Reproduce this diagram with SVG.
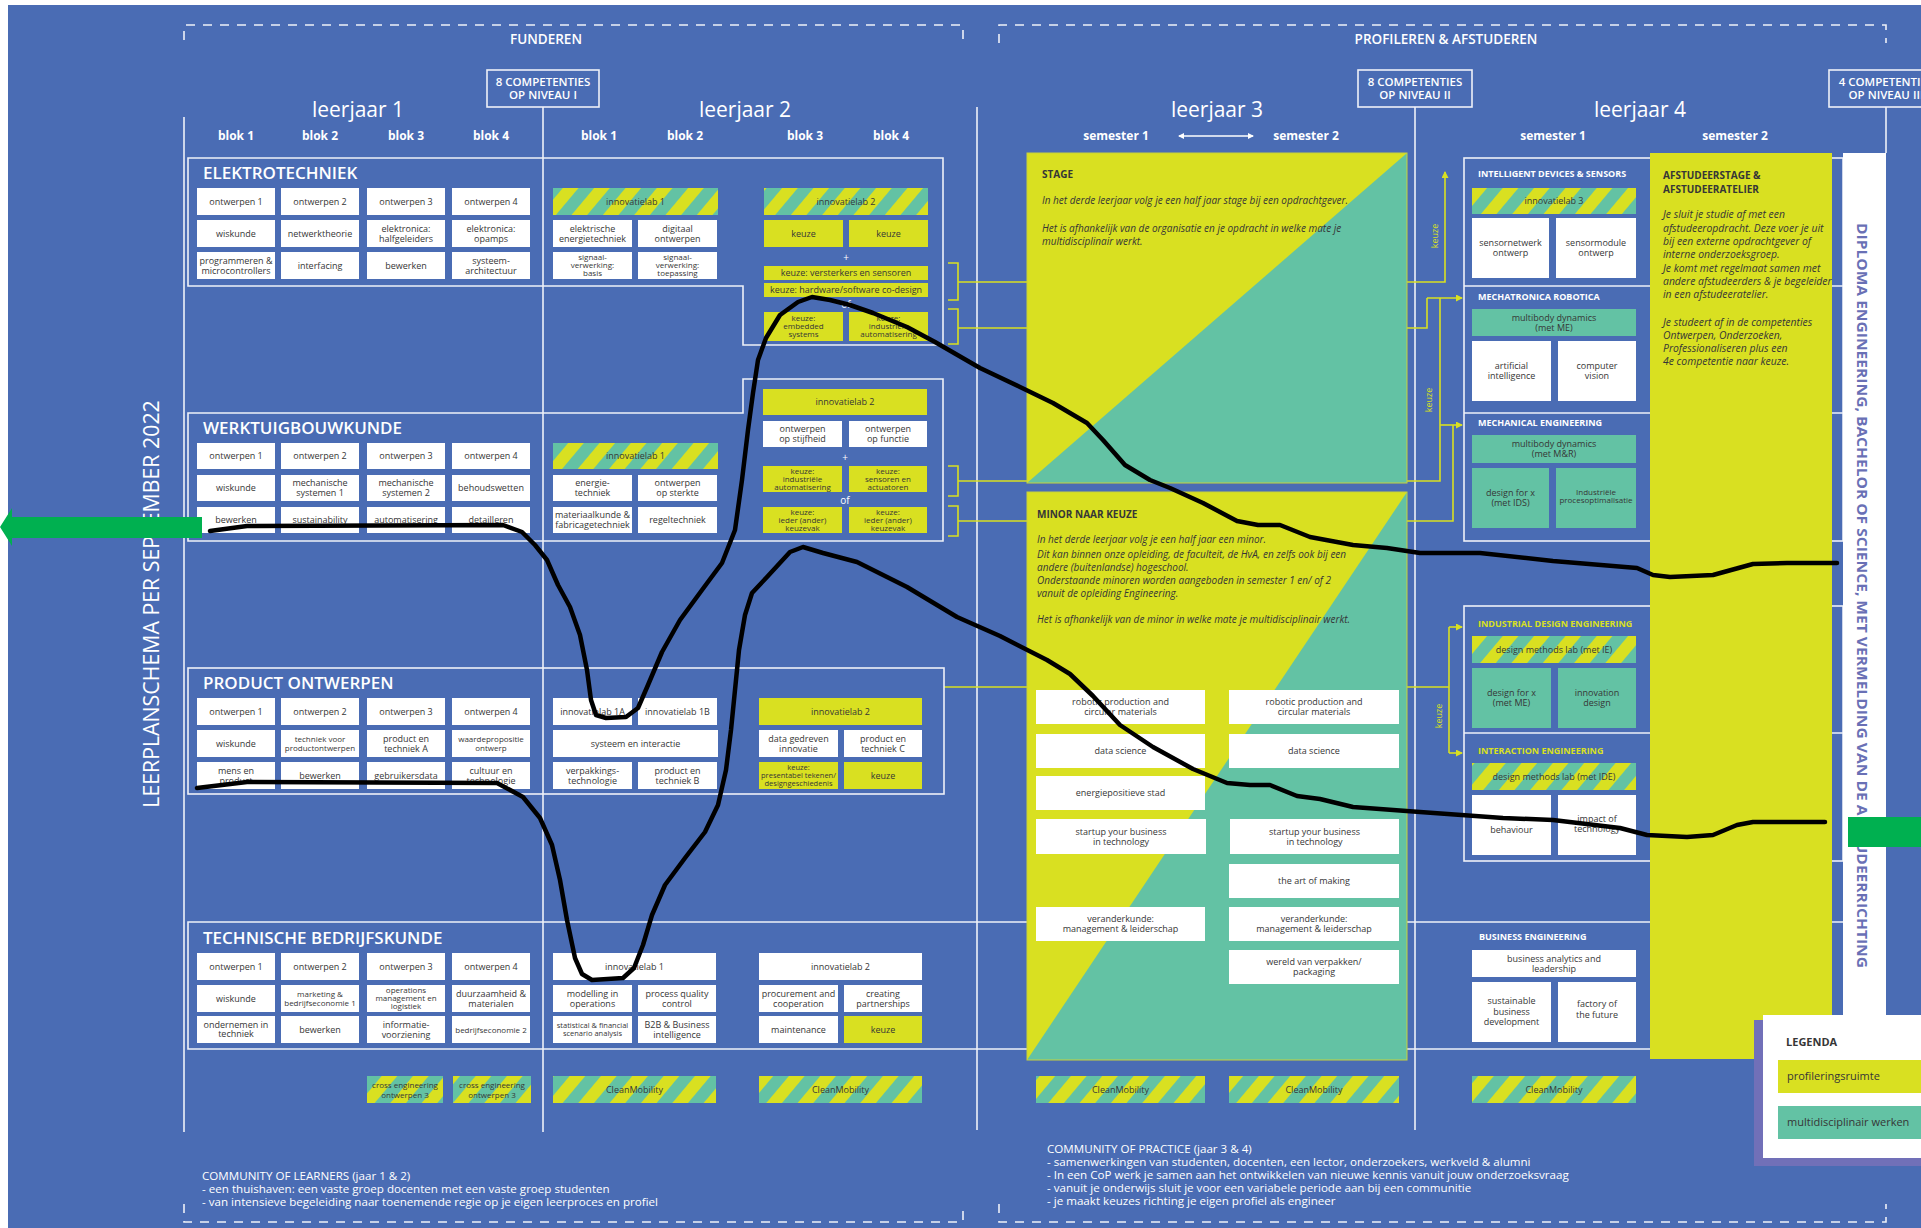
<svg xmlns="http://www.w3.org/2000/svg" width="1921" height="1228" viewBox="0 0 1921 1228">
<defs>
<pattern id="str" width="24" height="24" patternUnits="userSpaceOnUse" patternTransform="rotate(40)">
<rect width="24" height="24" fill="#63c2a4"/><rect width="12" height="24" fill="#d9e021"/>
</pattern>
<marker id="ya" markerWidth="7" markerHeight="7" refX="6" refY="3.5" orient="auto" markerUnits="userSpaceOnUse"><path d="M0,0 L7,3.5 L0,7 Z" fill="#d9e021"/></marker>
<marker id="wa" markerWidth="6" markerHeight="6" refX="5" refY="3" orient="auto-start-reverse" markerUnits="userSpaceOnUse"><path d="M0,0 L6,3 L0,6 Z" fill="#fff"/></marker>
</defs>
<style>
.bg{fill:#4a6cb4}
.w{fill:#fff}
.y{fill:#d9e021}
.t{fill:#63c2a4}
.s{fill:url(#str)}
.ol{fill:none;stroke:#eef1f8;stroke-width:1.6}
.dash{fill:none;stroke:#eef1f8;stroke-width:1.6;stroke-dasharray:9 8}
.yl{fill:none;stroke:#d9e021;stroke-width:1.6}
.ink{fill:none;stroke:#000;stroke-width:4.5;stroke-linecap:round;stroke-linejoin:round}
text{font-family:"Open Sans","Liberation Sans",sans-serif}
.m{font-size:9px;fill:#363636;text-anchor:middle}
.m8{font-size:8px}
.m75{font-size:7.5px}
.wt{fill:#fff}
.c{text-anchor:middle}
.blk{font-size:12px;font-weight:700;fill:#fff;text-anchor:middle}
.lj{font-size:21px;fill:#fff;text-anchor:middle}
.sec{font-size:17px;font-weight:600;fill:#fff}
.cmp{font-size:11.5px;font-weight:600;fill:#fff;text-anchor:middle}
.top{font-size:13.5px;font-weight:600;fill:#fff;text-anchor:middle}
.y4t{font-size:9px;font-weight:700;fill:#fff}
.y4y{font-size:9px;font-weight:700;fill:#d9e021}
.it{font-size:10px;font-style:italic;fill:#363636}
.ita{font-size:10.4px;font-style:italic;fill:#363636}
.bt{font-size:10px;font-weight:700;fill:#363636}
.cm{font-size:11.6px;fill:#fff}
.kz{font-size:9px;fill:#d9e021;text-anchor:middle}
.sym{font-size:10px;fill:#fff;text-anchor:middle}
</style>

<rect class="bg" x="0" y="0" width="1921" height="1228"/>
<rect class="w" x="0" y="0" width="1921" height="5"/>
<rect class="w" x="0" y="0" width="8" height="1228"/>

<g id="frames">
<path class="dash" d="M184,40 V25 H963 V43"/>
<path class="dash" d="M184,1204 V1222 H963 V1204"/>
<path class="dash" d="M999,43 V25 H1886 V43"/>
<path class="dash" d="M999,1204 V1222 H1886 V1204"/>
<text class="top" x="546" y="44">FUNDEREN</text>
<text class="top" x="1446" y="44">PROFILEREN &amp; AFSTUDEREN</text>
<line class="ol" x1="184" y1="117" x2="184" y2="1132"/>
<line class="ol" x1="543" y1="107" x2="543" y2="1132"/>
<line class="ol" x1="977" y1="107" x2="977" y2="1130"/>
<line class="ol" x1="1415" y1="107" x2="1415" y2="1130"/>
<line class="ol" x1="1886" y1="107" x2="1886" y2="153"/>
</g>

<g id="competenties-1"><rect class="ol" x="487" y="70" width="112" height="37"/><text class="cmp" x="543" y="86">8 COMPETENTIES</text><text class="cmp" x="543" y="99">OP NIVEAU I</text></g>
<g id="competenties-2"><rect class="ol" x="1358" y="70" width="114" height="37"/><text class="cmp" x="1415" y="86">8 COMPETENTIES</text><text class="cmp" x="1415" y="99">OP NIVEAU II</text></g>
<g id="competenties-3"><rect class="ol" x="1829" y="70" width="114" height="37"/><text class="cmp" x="1886" y="86">4 COMPETENTIES</text><text class="cmp" x="1886" y="99">OP NIVEAU III</text></g>

<g id="headers">
<text class="lj" x="358" y="117">leerjaar 1</text>
<text class="blk" x="236" y="140">blok 1</text><text class="blk" x="320" y="140">blok 2</text><text class="blk" x="406" y="140">blok 3</text><text class="blk" x="491" y="140">blok 4</text>
<text class="lj" x="745" y="117">leerjaar 2</text>
<text class="blk" x="599" y="140">blok 1</text><text class="blk" x="685" y="140">blok 2</text><text class="blk" x="805" y="140">blok 3</text><text class="blk" x="891" y="140">blok 4</text>
<text class="lj" x="1217" y="117">leerjaar 3</text>
<text class="blk" x="1116" y="140">semester 1</text><text class="blk" x="1306" y="140">semester 2</text>
<line x1="1179" y1="136" x2="1253" y2="136" stroke="#fff" stroke-width="1.3" marker-start="url(#wa)" marker-end="url(#wa)"/>
<text class="lj" x="1640" y="117">leerjaar 4</text>
<text class="blk" x="1553" y="140">semester 1</text><text class="blk" x="1735" y="140">semester 2</text>
</g>

<g id="side-title"><text transform="translate(159,604) rotate(-90)" class="wt c" font-size="21.3">LEERPLANSCHEMA PER SEPTEMBER 2022</text></g>

<g id="connectors">
<path class="yl" d="M948,263 H958 V300 H948 M958,282 H1027"/>
<path class="yl" d="M948,309 H958 V344 H948 M958,328 H1027"/>
<path class="yl" d="M948,466 H958 V496 H948 M958,481 H1027"/>
<path class="yl" d="M948,506 H958 V536 H948 M958,521 H1027"/>
<path class="yl" d="M944,687 H1027"/>
<path class="yl" d="M1407,282 H1445 V172" marker-end="url(#ya)"/>
<path class="yl" d="M1407,328 H1427 V298"/>
<path class="yl" d="M1427,298 H1462" marker-end="url(#ya)"/>
<path class="yl" d="M1407,481 H1440 V298"/>
<path class="yl" d="M1440,425 H1462" marker-end="url(#ya)"/>
<path class="yl" d="M1407,521 H1453 V425"/>
<path class="yl" d="M1407,687 H1449 M1449,627 V753"/>
<path class="yl" d="M1449,627 H1462" marker-end="url(#ya)"/>
<path class="yl" d="M1449,753 H1462" marker-end="url(#ya)"/>
<text transform="translate(1438,236) rotate(-90)" class="kz">keuze</text>
<text transform="translate(1432,400) rotate(-90)" class="kz">keuze</text>
<text transform="translate(1442,716) rotate(-90)" class="kz">keuze</text>
</g>

<g id="elektrotechniek">
<path class="ol" d="M188,158 H943 V345 H743 V286 H188 Z"/>
<text class="sec" x="203" y="179">ELEKTROTECHNIEK</text>
<g id="et-1"><rect class="w" x="197" y="188" width="78" height="27"/><text class="m" x="236" y="204.7">ontwerpen 1</text></g>
<g id="et-2"><rect class="w" x="281" y="188" width="78" height="27"/><text class="m" x="320" y="204.7">ontwerpen 2</text></g>
<g id="et-3"><rect class="w" x="367" y="188" width="78" height="27"/><text class="m" x="406" y="204.7">ontwerpen 3</text></g>
<g id="et-4"><rect class="w" x="452" y="188" width="78" height="27"/><text class="m" x="491" y="204.7">ontwerpen 4</text></g>
<g id="et-5"><rect class="w" x="197" y="220" width="78" height="27"/><text class="m" x="236" y="236.7">wiskunde</text></g>
<g id="et-6"><rect class="w" x="281" y="220" width="78" height="27"/><text class="m" x="320" y="236.7">netwerktheorie</text></g>
<g id="et-7"><rect class="w" x="367" y="220" width="78" height="27"/><text class="m" x="406" y="231.7">elektronica:</text><text class="m" x="406" y="241.7">halfgeleiders</text></g>
<g id="et-8"><rect class="w" x="452" y="220" width="78" height="27"/><text class="m" x="491" y="231.7">elektronica:</text><text class="m" x="491" y="241.7">opamps</text></g>
<g id="et-9"><rect class="w" x="197" y="252" width="78" height="27"/><text class="m" x="236" y="263.7">programmeren &amp;</text><text class="m" x="236" y="273.7">microcontrollers</text></g>
<g id="et-10"><rect class="w" x="281" y="252" width="78" height="27"/><text class="m" x="320" y="268.7">interfacing</text></g>
<g id="et-11"><rect class="w" x="367" y="252" width="78" height="27"/><text class="m" x="406" y="268.7">bewerken</text></g>
<g id="et-12"><rect class="w" x="452" y="252" width="78" height="27"/><text class="m" x="491" y="263.7">systeem-</text><text class="m" x="491" y="273.7">architectuur</text></g>
<g id="et-13"><rect class="s" x="553" y="188" width="165" height="27"/><text class="m" x="635.5" y="204.7">innovatielab 1</text></g>
<g id="et-14"><rect class="w" x="553" y="220" width="79" height="27"/><text class="m" x="592.5" y="231.7">elektrische</text><text class="m" x="592.5" y="241.7">energietechniek</text></g>
<g id="et-15"><rect class="w" x="638" y="220" width="79" height="27"/><text class="m" x="677.5" y="231.7">digitaal</text><text class="m" x="677.5" y="241.7">ontwerpen</text></g>
<g id="et-16"><rect class="w" x="553" y="252" width="79" height="27"/><text class="m m8" x="592.5" y="260.4">signaal-</text><text class="m m8" x="592.5" y="268.4">verwerking:</text><text class="m m8" x="592.5" y="276.4">basis</text></g>
<g id="et-17"><rect class="w" x="638" y="252" width="79" height="27"/><text class="m m8" x="677.5" y="260.4">signaal-</text><text class="m m8" x="677.5" y="268.4">verwerking:</text><text class="m m8" x="677.5" y="276.4">toepassing</text></g>
<g id="et-18"><rect class="s" x="764" y="188" width="164" height="27"/><text class="m" x="846" y="204.7">innovatielab 2</text></g>
<g id="et-19"><rect class="y" x="764" y="220" width="79" height="27"/><text class="m" x="803.5" y="236.7">keuze</text></g>
<g id="et-20"><rect class="y" x="849" y="220" width="79" height="27"/><text class="m" x="888.5" y="236.7">keuze</text></g>
<text class="sym" x="846" y="261">+</text>
<g id="et-21"><rect class="y" x="764" y="266" width="164" height="14"/><text class="m" x="846" y="276.2" font-size="8.5">keuze: versterkers en sensoren</text></g>
<g id="et-22"><rect class="y" x="764" y="283" width="164" height="14"/><text class="m" x="846" y="293.2" font-size="8.5">keuze: hardware/software co-design</text></g>
<text class="sym" x="846" y="308">of</text>
<g id="et-23"><rect class="y" x="764" y="312" width="79" height="29"/><text class="m m8" x="803.5" y="321.4">keuze:</text><text class="m m8" x="803.5" y="329.4">embedded</text><text class="m m8" x="803.5" y="337.4">systems</text></g>
<g id="et-24"><rect class="y" x="849" y="312" width="79" height="29"/><text class="m m8" x="888.5" y="321.4">keuze:</text><text class="m m8" x="888.5" y="329.4">industriële</text><text class="m m8" x="888.5" y="337.4">automatisering</text></g>
</g>

<g id="werktuigbouwkunde">
<path class="ol" d="M188,413 H743 V379 H943 V541 H188 Z"/>
<text class="sec" x="203" y="434">WERKTUIGBOUWKUNDE</text>
<g id="wb-1"><rect class="w" x="197" y="443" width="78" height="26"/><text class="m" x="236" y="459.2">ontwerpen 1</text></g>
<g id="wb-2"><rect class="w" x="281" y="443" width="78" height="26"/><text class="m" x="320" y="459.2">ontwerpen 2</text></g>
<g id="wb-3"><rect class="w" x="367" y="443" width="78" height="26"/><text class="m" x="406" y="459.2">ontwerpen 3</text></g>
<g id="wb-4"><rect class="w" x="452" y="443" width="78" height="26"/><text class="m" x="491" y="459.2">ontwerpen 4</text></g>
<g id="wb-5"><rect class="w" x="197" y="475" width="78" height="26"/><text class="m" x="236" y="491.2">wiskunde</text></g>
<g id="wb-6"><rect class="w" x="281" y="475" width="78" height="26"/><text class="m" x="320" y="486.2">mechanische</text><text class="m" x="320" y="496.2">systemen 1</text></g>
<g id="wb-7"><rect class="w" x="367" y="475" width="78" height="26"/><text class="m" x="406" y="486.2">mechanische</text><text class="m" x="406" y="496.2">systemen 2</text></g>
<g id="wb-8"><rect class="w" x="452" y="475" width="78" height="26"/><text class="m" x="491" y="491.2">behoudswetten</text></g>
<g id="wb-9"><rect class="w" x="197" y="507" width="78" height="26"/><text class="m" x="236" y="523.2">bewerken</text></g>
<g id="wb-10"><rect class="w" x="281" y="507" width="78" height="26"/><text class="m" x="320" y="523.2">sustainability</text></g>
<g id="wb-11"><rect class="w" x="367" y="507" width="78" height="26"/><text class="m" x="406" y="523.2">automatisering</text></g>
<g id="wb-12"><rect class="w" x="452" y="507" width="78" height="26"/><text class="m" x="491" y="523.2">detailleren</text></g>
<g id="wb-13"><rect class="s" x="553" y="443" width="165" height="26"/><text class="m" x="635.5" y="459.2">innovatielab 1</text></g>
<g id="wb-14"><rect class="w" x="553" y="475" width="79" height="26"/><text class="m" x="592.5" y="486.2">energie-</text><text class="m" x="592.5" y="496.2">techniek</text></g>
<g id="wb-15"><rect class="w" x="638" y="475" width="79" height="26"/><text class="m" x="677.5" y="486.2">ontwerpen</text><text class="m" x="677.5" y="496.2">op sterkte</text></g>
<g id="wb-16"><rect class="w" x="553" y="507" width="79" height="26"/><text class="m" x="592.5" y="518.2">materiaalkunde &amp;</text><text class="m" x="592.5" y="528.2">fabricagetechniek</text></g>
<g id="wb-17"><rect class="w" x="638" y="507" width="79" height="26"/><text class="m" x="677.5" y="523.2">regeltechniek</text></g>
<g id="wb-18"><rect class="y" x="763" y="389" width="164" height="26"/><text class="m" x="845" y="405.2">innovatielab 2</text></g>
<g id="wb-19"><rect class="w" x="763" y="421" width="79" height="26"/><text class="m" x="802.5" y="432.2">ontwerpen</text><text class="m" x="802.5" y="442.2">op stijfheid</text></g>
<g id="wb-20"><rect class="w" x="849" y="421" width="78" height="26"/><text class="m" x="888" y="432.2">ontwerpen</text><text class="m" x="888" y="442.2">op functie</text></g>
<text class="sym" x="845" y="461">+</text>
<g id="wb-21"><rect class="y" x="763" y="466" width="79" height="26"/><text class="m m8" x="802.5" y="473.9">keuze:</text><text class="m m8" x="802.5" y="481.9">industriële</text><text class="m m8" x="802.5" y="489.9">automatisering</text></g>
<g id="wb-22"><rect class="y" x="849" y="466" width="78" height="26"/><text class="m m8" x="888" y="473.9">keuze:</text><text class="m m8" x="888" y="481.9">sensoren en</text><text class="m m8" x="888" y="489.9">actuatoren</text></g>
<text class="sym" x="845" y="504">of</text>
<g id="wb-23"><rect class="y" x="763" y="507" width="79" height="26"/><text class="m m8" x="802.5" y="514.9">keuze:</text><text class="m m8" x="802.5" y="522.9">ieder (ander)</text><text class="m m8" x="802.5" y="530.9">keuzevak</text></g>
<g id="wb-24"><rect class="y" x="849" y="507" width="78" height="26"/><text class="m m8" x="888" y="514.9">keuze:</text><text class="m m8" x="888" y="522.9">ieder (ander)</text><text class="m m8" x="888" y="530.9">keuzevak</text></g>
</g>

<g id="product-ontwerpen">
<rect class="ol" x="188" y="668" width="756" height="126"/>
<text class="sec" x="203" y="689">PRODUCT ONTWERPEN</text>
<g id="po-1"><rect class="w" x="197" y="698" width="78" height="27"/><text class="m" x="236" y="714.7">ontwerpen 1</text></g>
<g id="po-2"><rect class="w" x="281" y="698" width="78" height="27"/><text class="m" x="320" y="714.7">ontwerpen 2</text></g>
<g id="po-3"><rect class="w" x="367" y="698" width="78" height="27"/><text class="m" x="406" y="714.7">ontwerpen 3</text></g>
<g id="po-4"><rect class="w" x="452" y="698" width="78" height="27"/><text class="m" x="491" y="714.7">ontwerpen 4</text></g>
<g id="po-5"><rect class="w" x="197" y="730" width="78" height="27"/><text class="m" x="236" y="746.7">wiskunde</text></g>
<g id="po-6"><rect class="w" x="281" y="730" width="78" height="27"/><text class="m m8" x="320" y="741.7">techniek voor</text><text class="m m8" x="320" y="751.2">productontwerpen</text></g>
<g id="po-7"><rect class="w" x="367" y="730" width="78" height="27"/><text class="m" x="406" y="741.7">product en</text><text class="m" x="406" y="751.7">techniek A</text></g>
<g id="po-8"><rect class="w" x="452" y="730" width="78" height="27"/><text class="m m8" x="491" y="741.7">waardepropositie</text><text class="m m8" x="491" y="751.2">ontwerp</text></g>
<g id="po-9"><rect class="w" x="197" y="762" width="78" height="27"/><text class="m" x="236" y="773.7">mens en</text><text class="m" x="236" y="783.7">product</text></g>
<g id="po-10"><rect class="w" x="281" y="762" width="78" height="27"/><text class="m" x="320" y="778.7">bewerken</text></g>
<g id="po-11"><rect class="w" x="367" y="762" width="78" height="27"/><text class="m" x="406" y="778.7">gebruikersdata</text></g>
<g id="po-12"><rect class="w" x="452" y="762" width="78" height="27"/><text class="m" x="491" y="773.7">cultuur en</text><text class="m" x="491" y="783.7">technologie</text></g>
<g id="po-13"><rect class="w" x="553" y="698" width="79" height="27"/><text class="m" x="592.5" y="714.7">innovatielab 1A</text></g>
<g id="po-14"><rect class="w" x="638" y="698" width="79" height="27"/><text class="m" x="677.5" y="714.7">innovatielab 1B</text></g>
<g id="po-15"><rect class="w" x="553" y="730" width="165" height="27"/><text class="m" x="635.5" y="746.7">systeem en interactie</text></g>
<g id="po-16"><rect class="w" x="553" y="762" width="79" height="27"/><text class="m" x="592.5" y="773.7">verpakkings-</text><text class="m" x="592.5" y="783.7">technologie</text></g>
<g id="po-17"><rect class="w" x="638" y="762" width="79" height="27"/><text class="m" x="677.5" y="773.7">product en</text><text class="m" x="677.5" y="783.7">techniek B</text></g>
<g id="po-18"><rect class="y" x="759" y="698" width="163" height="27"/><text class="m" x="840.5" y="714.7">innovatielab 2</text></g>
<g id="po-19"><rect class="w" x="759" y="730" width="79" height="27"/><text class="m" x="798.5" y="741.7">data gedreven</text><text class="m" x="798.5" y="751.7">innovatie</text></g>
<g id="po-20"><rect class="w" x="844" y="730" width="78" height="27"/><text class="m" x="883" y="741.7">product en</text><text class="m" x="883" y="751.7">techniek C</text></g>
<g id="po-21"><rect class="y" x="759" y="762" width="79" height="27"/><text class="m m75" x="798.5" y="770.4">keuze:</text><text class="m m75" x="798.5" y="778.4">presentabel tekenen/</text><text class="m m75" x="798.5" y="786.4">designgeschiedenis</text></g>
<g id="po-22"><rect class="y" x="844" y="762" width="78" height="27"/><text class="m" x="883" y="778.7">keuze</text></g>
</g>

<g id="technische-bedrijfskunde">
<path class="ol" d="M1843,922 H188 V1049 H1843"/>
<text class="sec" x="203" y="944">TECHNISCHE BEDRIJFSKUNDE</text>
<g id="tb-1"><rect class="w" x="197" y="953" width="78" height="27"/><text class="m" x="236" y="969.7">ontwerpen 1</text></g>
<g id="tb-2"><rect class="w" x="281" y="953" width="78" height="27"/><text class="m" x="320" y="969.7">ontwerpen 2</text></g>
<g id="tb-3"><rect class="w" x="367" y="953" width="78" height="27"/><text class="m" x="406" y="969.7">ontwerpen 3</text></g>
<g id="tb-4"><rect class="w" x="452" y="953" width="78" height="27"/><text class="m" x="491" y="969.7">ontwerpen 4</text></g>
<g id="tb-5"><rect class="w" x="197" y="985" width="78" height="27"/><text class="m" x="236" y="1001.7">wiskunde</text></g>
<g id="tb-6"><rect class="w" x="281" y="985" width="78" height="27"/><text class="m m8" x="320" y="996.7">marketing &amp;</text><text class="m m8" x="320" y="1006.2">bedrijfseconomie 1</text></g>
<g id="tb-7"><rect class="w" x="367" y="985" width="78" height="27"/><text class="m m8" x="406" y="993.4">operations</text><text class="m m8" x="406" y="1001.4">management en</text><text class="m m8" x="406" y="1009.4">logistiek</text></g>
<g id="tb-8"><rect class="w" x="452" y="985" width="78" height="27"/><text class="m" x="491" y="996.7">duurzaamheid &amp;</text><text class="m" x="491" y="1006.7">materialen</text></g>
<g id="tb-9"><rect class="w" x="197" y="1016" width="78" height="27"/><text class="m" x="236" y="1027.7">ondernemen in</text><text class="m" x="236" y="1037.2">techniek</text></g>
<g id="tb-10"><rect class="w" x="281" y="1016" width="78" height="27"/><text class="m" x="320" y="1032.7">bewerken</text></g>
<g id="tb-11"><rect class="w" x="367" y="1016" width="78" height="27"/><text class="m" x="406" y="1027.7">informatie-</text><text class="m" x="406" y="1037.7">voorziening</text></g>
<g id="tb-12"><rect class="w" x="452" y="1016" width="78" height="27"/><text class="m m8" x="491" y="1032.5">bedrijfseconomie 2</text></g>
<g id="tb-13"><rect class="w" x="553" y="953" width="163" height="27"/><text class="m" x="634.5" y="969.7">innovatielab 1</text></g>
<g id="tb-14"><rect class="w" x="553" y="985" width="79" height="27"/><text class="m" x="592.5" y="996.7">modelling in</text><text class="m" x="592.5" y="1006.7">operations</text></g>
<g id="tb-15"><rect class="w" x="638" y="985" width="78" height="27"/><text class="m" x="677" y="996.7">process quality</text><text class="m" x="677" y="1006.7">control</text></g>
<g id="tb-16"><rect class="w" x="553" y="1016" width="79" height="27"/><text class="m m75" x="592.5" y="1027.7">statistical &amp; financial</text><text class="m m75" x="592.5" y="1036.2">scenario analysis</text></g>
<g id="tb-17"><rect class="w" x="638" y="1016" width="78" height="27"/><text class="m" x="677" y="1027.7">B2B &amp; Business</text><text class="m" x="677" y="1037.7">intelligence</text></g>
<g id="tb-18"><rect class="w" x="759" y="953" width="163" height="27"/><text class="m" x="840.5" y="969.7">innovatielab 2</text></g>
<g id="tb-19"><rect class="w" x="759" y="985" width="79" height="27"/><text class="m" x="798.5" y="996.7">procurement and</text><text class="m" x="798.5" y="1006.7">cooperation</text></g>
<g id="tb-20"><rect class="w" x="844" y="985" width="78" height="27"/><text class="m" x="883" y="996.7">creating</text><text class="m" x="883" y="1006.7">partnerships</text></g>
<g id="tb-21"><rect class="w" x="759" y="1016" width="79" height="27"/><text class="m" x="798.5" y="1032.7">maintenance</text></g>
<g id="tb-22"><rect class="y" x="844" y="1016" width="78" height="27"/><text class="m" x="883" y="1032.7">keuze</text></g>
</g>

<g id="cross-1"><rect class="s" x="367" y="1076" width="76" height="27"/><text class="m m8" x="405" y="1087.7">cross engineering</text><text class="m m8" x="405" y="1097.7">ontwerpen 3</text></g>
<g id="cross-2"><rect class="s" x="453" y="1076" width="78" height="27"/><text class="m m8" x="492" y="1087.7">cross engineering</text><text class="m m8" x="492" y="1097.7">ontwerpen 3</text></g>
<g id="cm-1"><rect class="s" x="553" y="1076" width="163" height="27"/><text class="m" x="634.5" y="1092.7">CleanMobility</text></g>
<g id="cm-2"><rect class="s" x="759" y="1076" width="163" height="27"/><text class="m" x="840.5" y="1092.7">CleanMobility</text></g>
<g id="cm-3"><rect class="s" x="1036" y="1076" width="169" height="27"/><text class="m" x="1120.5" y="1092.7">CleanMobility</text></g>
<g id="cm-4"><rect class="s" x="1229" y="1076" width="170" height="27"/><text class="m" x="1314" y="1092.7">CleanMobility</text></g>
<g id="cm-5"><rect class="s" x="1472" y="1076" width="164" height="27"/><text class="m" x="1554" y="1092.7">CleanMobility</text></g>

<g id="stage">
<rect class="y" x="1027" y="153" width="380" height="330"/>
<path class="t" d="M1027,483 L1407,153 V483 Z"/>
<rect x="1027" y="153" width="380" height="330" fill="none" stroke="#c8d23c" stroke-width="1"/>
<text class="bt" x="1042" y="178">STAGE</text>
<text class="it" x="1042" y="204">In het derde leerjaar volg je een half jaar stage bij een opdrachtgever.</text>
<text class="it" x="1042" y="232">Het is afhankelijk van de organisatie en je opdracht in welke mate je</text>
<text class="it" x="1042" y="245">multidisciplinair werkt.</text>
</g>
<g id="minor">
<rect class="y" x="1027" y="492" width="380" height="568"/>
<path class="t" d="M1027,1060 L1407,492 V1060 Z"/>
<rect x="1027" y="492" width="380" height="568" fill="none" stroke="#c8d23c" stroke-width="1"/>
<text class="bt" x="1037" y="518">MINOR NAAR KEUZE</text>
<text class="it" x="1037" y="543">In het derde leerjaar volg je een half jaar een minor.</text>
<text class="it" x="1037" y="558">Dit kan binnen onze opleiding, de faculteit, de HvA, en zelfs ook  bij een</text>
<text class="it" x="1037" y="571">andere (buitenlandse) hogeschool.</text>
<text class="it" x="1037" y="584">Onderstaande minoren worden aangeboden in semester 1 en/ of 2</text>
<text class="it" x="1037" y="597">vanuit de opleiding Engineering.</text>
<text class="it" x="1037" y="623">Het is afhankelijk van de minor in welke mate je multidisciplinair werkt.</text>
<g id="mi-1"><rect class="w" x="1036" y="690" width="169" height="34"/><text class="m" x="1120.5" y="705.2">robotic production and</text><text class="m" x="1120.5" y="715.2">circular materials</text></g>
<g id="mi-2"><rect class="w" x="1229" y="690" width="170" height="34"/><text class="m" x="1314" y="705.2">robotic production and</text><text class="m" x="1314" y="715.2">circular materials</text></g>
<g id="mi-3"><rect class="w" x="1036" y="734" width="169" height="34"/><text class="m" x="1120.5" y="754.2">data science</text></g>
<g id="mi-4"><rect class="w" x="1229" y="734" width="170" height="34"/><text class="m" x="1314" y="754.2">data science</text></g>
<g id="mi-5"><rect class="w" x="1036" y="776" width="169" height="34"/><text class="m" x="1120.5" y="796.2">energiepositieve stad</text></g>
<g id="mi-6"><rect class="w" x="1036" y="819" width="170" height="35"/><text class="m" x="1121" y="834.7">startup your business</text><text class="m" x="1121" y="844.7">in technology</text></g>
<g id="mi-7"><rect class="w" x="1230" y="819" width="169" height="35"/><text class="m" x="1314.5" y="834.7">startup your business</text><text class="m" x="1314.5" y="844.7">in technology</text></g>
<g id="mi-8"><rect class="w" x="1229" y="864" width="170" height="34"/><text class="m" x="1314" y="884.2">the art of making</text></g>
<g id="mi-9"><rect class="w" x="1036" y="907" width="169" height="34"/><text class="m" x="1120.5" y="922.2">veranderkunde:</text><text class="m" x="1120.5" y="932.2">management &amp;  leiderschap</text></g>
<g id="mi-10"><rect class="w" x="1229" y="907" width="170" height="34"/><text class="m" x="1314" y="922.2">veranderkunde:</text><text class="m" x="1314" y="932.2">management &amp;  leiderschap</text></g>
<g id="mi-11"><rect class="w" x="1229" y="950" width="170" height="34"/><text class="m" x="1314" y="965.2">wereld van verpakken/</text><text class="m" x="1314" y="975.2">packaging</text></g>
</g>

<g id="leerjaar4-frames">
<rect class="ol" x="1464" y="158" width="379" height="383"/>
<line class="ol" x1="1464" y1="286" x2="1843" y2="286"/>
<line class="ol" x1="1464" y1="413" x2="1843" y2="413"/>
<rect class="ol" x="1464" y="606" width="379" height="255"/>
<line class="ol" x1="1464" y1="733" x2="1843" y2="733"/>
</g>
<g id="ids">
<text class="y4t" x="1478" y="177">INTELLIGENT DEVICES &amp; SENSORS</text>
<g id="ids-1"><rect class="s" x="1472" y="188" width="164" height="26"/><text class="m" x="1554" y="204.2">innovatielab 3</text></g>
<g id="ids-2"><rect class="w" x="1472" y="218" width="77" height="60"/><text class="m" x="1510.5" y="246.2">sensornetwerk</text><text class="m" x="1510.5" y="256.2">ontwerp</text></g>
<g id="ids-3"><rect class="w" x="1556" y="218" width="80" height="60"/><text class="m" x="1596" y="246.2">sensormodule</text><text class="m" x="1596" y="256.2">ontwerp</text></g>
</g>
<g id="mr">
<text class="y4t" x="1478" y="300">MECHATRONICA ROBOTICA</text>
<g id="mr-1"><rect class="t" x="1472" y="309" width="164" height="27"/><text class="m" x="1554" y="320.7">multibody dynamics</text><text class="m" x="1554" y="330.7">(met ME)</text></g>
<g id="mr-2"><rect class="w" x="1472" y="341" width="79" height="60"/><text class="m" x="1511.5" y="369.2">artificial</text><text class="m" x="1511.5" y="379.2">intelligence</text></g>
<g id="mr-3"><rect class="w" x="1558" y="341" width="78" height="60"/><text class="m" x="1597" y="369.2">computer</text><text class="m" x="1597" y="379.2">vision</text></g>
</g>
<g id="me">
<text class="y4t" x="1478" y="426">MECHANICAL ENGINEERING</text>
<g id="me-1"><rect class="t" x="1472" y="435" width="164" height="28"/><text class="m" x="1554" y="447.2">multibody dynamics</text><text class="m" x="1554" y="457.2">(met M&amp;R)</text></g>
<g id="me-2"><rect class="t" x="1472" y="468" width="77" height="60"/><text class="m" x="1510.5" y="496.2">design for x</text><text class="m" x="1510.5" y="506.2">(met IDS)</text></g>
<g id="me-3"><rect class="t" x="1556" y="468" width="80" height="60"/><text class="m m8" x="1596" y="494.5">Industriële</text><text class="m m8" x="1596" y="503">procesoptimalisatie</text></g>
</g>
<g id="ide">
<text class="y4y" x="1478" y="627">INDUSTRIAL DESIGN ENGINEERING</text>
<g id="ide-1"><rect class="s" x="1472" y="636" width="164" height="27"/><text class="m" x="1554" y="652.7">design methods lab (met IE)</text></g>
<g id="ide-2"><rect class="t" x="1472" y="668" width="79" height="60"/><text class="m" x="1511.5" y="696.2">design for x</text><text class="m" x="1511.5" y="706.2">(met ME)</text></g>
<g id="ide-3"><rect class="t" x="1558" y="668" width="78" height="60"/><text class="m" x="1597" y="696.2">innovation</text><text class="m" x="1597" y="706.2">design</text></g>
</g>
<g id="ie">
<text class="y4y" x="1478" y="754">INTERACTION ENGINEERING</text>
<g id="ie-1"><rect class="s" x="1472" y="763" width="164" height="27"/><text class="m" x="1554" y="779.7">design methods lab (met IDE)</text></g>
<g id="ie-2"><rect class="w" x="1472" y="795" width="79" height="60"/><text class="m" x="1511.5" y="833.2">behaviour</text></g>
<g id="ie-3"><rect class="w" x="1558" y="795" width="78" height="60"/><text class="m" x="1597" y="822.2">impact of</text><text class="m" x="1597" y="832.2">technology</text></g>
</g>
<g id="be">
<text class="y4t" x="1479" y="940">BUSINESS ENGINEERING</text>
<g id="be-1"><rect class="w" x="1472" y="950" width="164" height="27"/><text class="m" x="1554" y="961.7">business analytics and</text><text class="m" x="1554" y="971.7">leadership</text></g>
<g id="be-2"><rect class="w" x="1472" y="982" width="79" height="60"/><text class="m" x="1511.5" y="1004">sustainable</text><text class="m" x="1511.5" y="1015">business</text><text class="m" x="1511.5" y="1025">development</text></g>
<g id="be-3"><rect class="w" x="1558" y="982" width="78" height="60"/><text class="m" x="1597" y="1007">factory of</text><text class="m" x="1597" y="1018">the future</text></g>
</g>

<g id="afstuderen">
<rect class="y" x="1650" y="153" width="182" height="906"/>
<text class="bt" x="1663" y="179">AFSTUDEERSTAGE &amp;</text>
<text class="bt" x="1663" y="193">AFSTUDEERATELIER</text>
<text class="ita" x="1663" y="218">Je sluit je studie af met een</text>
<text class="ita" x="1663" y="232">afstudeeropdracht. Deze voer je uit</text>
<text class="ita" x="1663" y="245">bij een externe opdrachtgever of</text>
<text class="ita" x="1663" y="258">interne onderzoeksgroep.</text>
<text class="ita" x="1663" y="272">Je komt met regelmaat samen met</text>
<text class="ita" x="1663" y="285">andere afstudeerders &amp; je begeleider</text>
<text class="ita" x="1663" y="298">in een afstudeeratelier.</text>
<text class="ita" x="1663" y="326">Je studeert af in de competenties</text>
<text class="ita" x="1663" y="339">Ontwerpen, Onderzoeken,</text>
<text class="ita" x="1663" y="352">Professionaliseren plus een</text>
<text class="ita" x="1663" y="365">4e competentie naar keuze.</text>
</g>

<g id="diploma">
<rect class="w" x="1843" y="153" width="43" height="870"/>
<text transform="translate(1857,223) rotate(90)" font-size="15" font-weight="700" fill="#6970b5" textLength="745" lengthAdjust="spacingAndGlyphs">DIPLOMA ENGINEERING, BACHELOR OF SCIENCE, MET VERMELDING VAN DE AFSTUDEERRICHTING</text>
</g>

<g id="legenda">
<rect x="1754" y="1020" width="167" height="146" fill="#7170b8"/>
<rect class="w" x="1763" y="1015" width="158" height="143"/>
<text x="1786" y="1046" font-size="11" font-weight="700" fill="#363636">LEGENDA</text>
<rect class="y" x="1778" y="1060" width="143" height="33"/>
<text x="1787" y="1080" font-size="11" fill="#363636">profileringsruimte</text>
<rect class="t" x="1778" y="1106" width="143" height="33"/>
<text x="1787" y="1126" font-size="11" fill="#363636">multidisciplinair werken</text>
</g>

<g id="communities">
<text class="cm" x="202" y="1180">COMMUNITY OF LEARNERS (jaar 1 &amp; 2)</text>
<text class="cm" x="202" y="1193">- een thuishaven: een vaste groep docenten met een vaste groep studenten</text>
<text class="cm" x="202" y="1206">- van intensieve begeleiding naar toenemende regie op je eigen leerproces en profiel</text>
<text class="cm" x="1047" y="1153">COMMUNITY OF PRACTICE (jaar 3 &amp; 4)</text>
<text class="cm" x="1047" y="1166">- samenwerkingen van studenten, docenten, een lector, onderzoekers, werkveld &amp; alumni</text>
<text class="cm" x="1047" y="1179">- In een CoP werk je samen aan het ontwikkelen van nieuwe kennis vanuit jouw onderzoeksvraag</text>
<text class="cm" x="1047" y="1192">- vanuit je onderwijs sluit je voor een variabele periode aan bij een communitie</text>
<text class="cm" x="1047" y="1205">- je maakt keuzes richting je eigen profiel als engineer</text>
</g>

<g id="annotations">
<path class="ink" d="M210,531 L247,526 L503,525 L522,532 L535,545 L547,560 L558,585 L570,607 L580,635 L587,670 L591,700 L596,715 L606,718 L626,717 L638,708 L648,685 L662,652 L680,620 L702,590 L722,563 L735,530 L742,480 L748,430 L753,393 L758,360 L766,338 L780,315 L798,302 L812,297 L830,300 L850,305 L873,313 L907,327 L935,342 L980,368 L1020,387 L1053,403 L1087,423 L1103,440 L1125,465 L1150,480 L1170,488 L1203,503 L1237,521 L1258,525 L1280,525 L1310,537 L1353,545 L1387,548 L1420,553 L1480,553 L1553,561 L1637,568 L1653,575 L1670,577 L1713,575 L1753,564 L1787,563 L1837,563"/>
<path class="ink" d="M197,788 L247,782 L497,783 L523,797 L540,818 L552,845 L560,880 L567,920 L575,958 L582,974 L592,980 L623,978 L634,968 L643,945 L652,915 L665,885 L685,858 L705,832 L718,805 L726,770 L731,730 L735,690 L739,650 L745,615 L752,593 L767,577 L790,552 L803,547 L823,553 L857,562 L907,587 L957,617 L1000,636 L1047,660 L1070,674 L1093,696 L1120,725 L1153,747 L1193,769 L1227,783 L1250,785 L1270,785 L1297,796 L1320,799 L1353,807 L1420,812 L1503,818 L1553,820 L1620,828 L1647,835 L1687,837 L1713,835 L1737,825 L1753,822 L1825,822"/>
<path d="M0,527 L12,508 L12,517 L202,517 L202,538 L12,538 L12,546 Z" fill="#00b050"/>
<rect x="1848" y="817" width="73" height="30" fill="#00b050"/>
</g>
</svg>
